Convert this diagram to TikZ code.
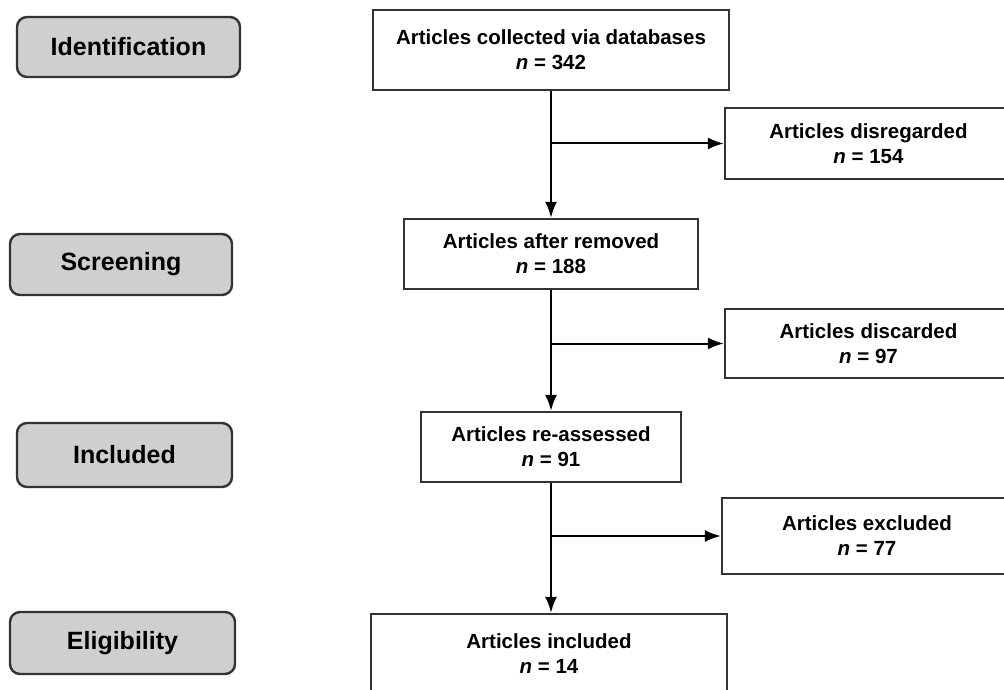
\documentclass[tikz,border=0pt]{standalone}
\usepackage{fontspec}
\setmainfont{Liberation Sans}
\usetikzlibrary{arrows.meta}

\tikzset{
	stage/.style={draw=black!80, line width=2.4pt, fill=black!19, rounded corners=10pt,
		inner sep=0pt, font=\bfseries\fontsize{25}{30}\selectfont},
	record/.style={draw=black!80, line width=2.4pt, fill=white, align=center,
		inner sep=0pt, font=\bfseries\fontsize{20.5}{25}\selectfont},
	flow/.style={line width=2pt, -{Latex[length=16pt,width=12pt]}},
}

\begin{document}
\begin{tikzpicture}[x=1pt,y=-1pt]
		\useasboundingbox (0,0) rectangle (1004,690);
		\clip (0,0) rectangle (1004,690);
		% stages
		\node [stage, minimum width=223pt, minimum height=60pt] (ident) at (128.5,47) {Identification};
		\node [stage, minimum width=222pt, minimum height=61pt] (screen) at (121,264.5) {Screening};
		\node [stage, minimum width=215pt, minimum height=64pt] (incl) at (124.5,455) {Included};
		\node [stage, minimum width=225pt, minimum height=62pt] (elig) at (122.5,643) {Eligibility};
		% main column
		\node [record, minimum width=356pt, minimum height=80pt] (collected) at (551,50) {Articles collected via databases\\\textit{n} = 342};
		\node [record, minimum width=294pt, minimum height=70pt] (removed) at (551,254) {Articles after removed\\\textit{n} = 188};
		\node [record, minimum width=260pt, minimum height=70pt] (reassessed) at (551,447) {Articles re-assessed\\\textit{n} = 91};
		\node [record, minimum width=356pt, minimum height=80pt] (included) at (549,654) {Articles included\\\textit{n} = 14};
		% side column
		\node [record, minimum width=287pt, minimum height=71pt] (disregarded) at (868.5,143.5) {Articles disregarded\\\textit{n} = 154};
		\node [record, minimum width=287pt, minimum height=69pt] (discarded) at (868.5,343.5) {Articles discarded\\\textit{n} = 97};
		\node [record, minimum width=290pt, minimum height=76pt] (excluded) at (867,536) {Articles excluded\\\textit{n} = 77};
		% arrows
		\draw [flow] (collected) -- (removed);
		\draw [flow] (removed) -- (reassessed);
		\draw [flow] (reassessed.south) -- (reassessed.south |- included.north);
		\draw [flow] (collected.south |- disregarded.west) -- (disregarded.west);
		\draw [flow] (removed.south |- discarded.west) -- (discarded.west);
		\draw [flow] (reassessed.south |- excluded.west) -- (excluded.west);
	\end{tikzpicture}
\end{document}
